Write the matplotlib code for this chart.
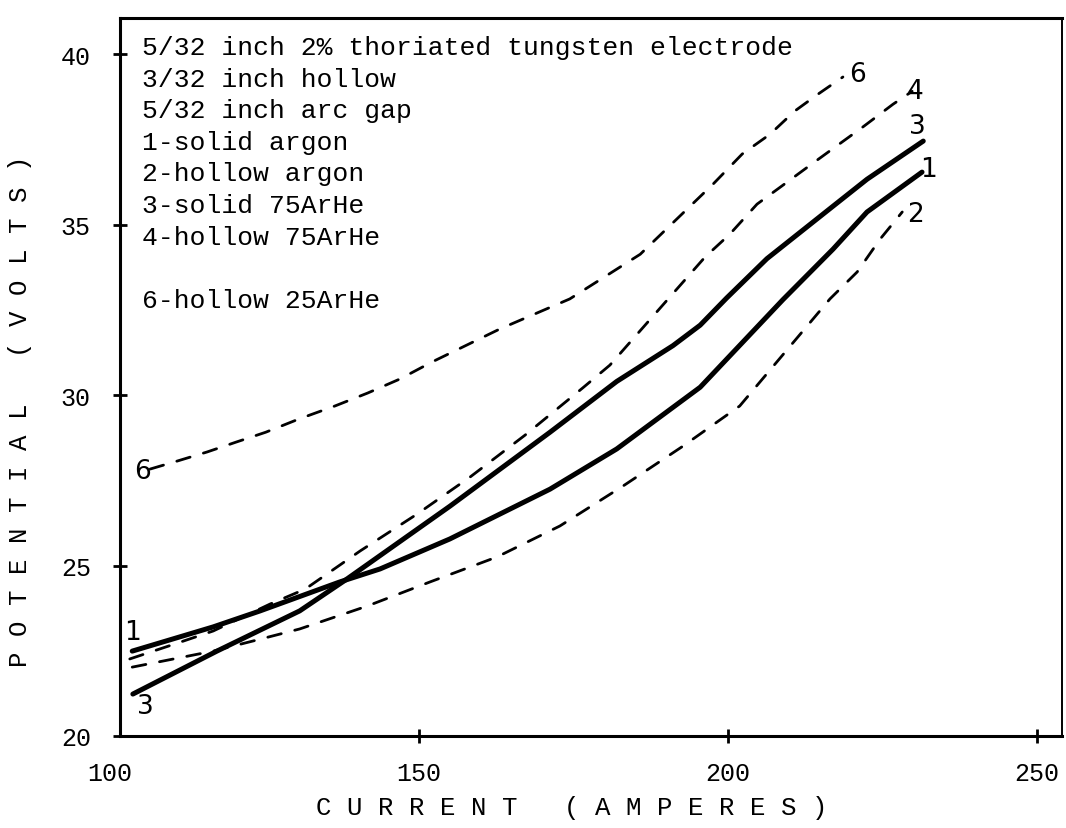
"""Arc potential vs current for solid / hollow tungsten electrodes (re-drawn)."""
import matplotlib
matplotlib.use('Agg')
import matplotlib.pyplot as plt

W, H = 1066, 829
MONO = 'Liberation Mono'
SANS = 'DejaVu Sans'

# 1-solid argon
cur_1 = [103.6, 116.7, 124.3, 137.2, 143.7, 155.0, 171.2, 182.0, 195.5, 208.9, 217.0, 222.5, 231.4]
pot_1 = [22.49, 23.20, 23.67, 24.52, 24.90, 25.78, 27.24, 28.42, 30.23, 32.80, 34.28, 35.37, 36.54]
# 2-hollow argon
cur_2 = [103.6, 116.7, 124.3, 130.7, 141.6, 151.8, 162.6, 172.8, 183.0, 192.7, 201.9, 216.5, 220.9, 224.6, 228.2]
pot_2 = [22.02, 22.49, 22.84, 23.14, 23.81, 24.52, 25.25, 26.16, 27.33, 28.50, 29.68, 32.82, 33.61, 34.57, 35.37]
# 3-solid 75ArHe
cur_3 = [103.7, 117.3, 130.7, 138.3, 155.0, 171.2, 182.0, 191.1, 195.5, 199.8, 206.3, 217.0, 222.5, 231.6]
pot_3 = [21.23, 22.49, 23.67, 24.60, 26.74, 28.91, 30.40, 31.45, 32.05, 32.85, 34.00, 35.54, 36.33, 37.45]
# 4-hollow 75ArHe
cur_4 = [103.2, 110.5, 116.7, 125.9, 131.6, 140.5, 149.7, 158.3, 167.2, 176.5, 180.9, 196.3, 200.3,
         204.7, 208.7, 212.9, 217.3, 221.8, 226.7, 229.8]
pot_4 = [22.26, 22.70, 23.08, 23.87, 24.31, 25.43, 26.51, 27.60, 28.83, 30.21, 30.88, 34.05, 34.72,
         35.60, 36.13, 36.69, 37.27, 37.86, 38.53, 38.91]
# 6-hollow 25ArHe
cur_6 = [106.5, 110.8, 115.7, 120.4, 125.2, 130.6, 136.4, 141.7, 146.9, 152.1, 163.1, 174.4, 185.8,
         197.6, 202.3, 206.8, 210.8, 214.6, 218.6]
pot_6 = [27.83, 28.06, 28.33, 28.62, 28.91, 29.30, 29.68, 30.06, 30.47, 30.97, 31.94, 32.82, 34.13,
         36.19, 37.07, 37.65, 38.33, 38.83, 39.33]

x_ticks = [150, 200, 250]
y_ticks = [20, 25, 30, 35, 40]

notes = ['5/32 inch 2% thoriated tungsten electrode',
         '3/32 inch hollow',
         '5/32 inch arc gap',
         '1-solid argon',
         '2-hollow argon',
         '3-solid 75ArHe',
         '4-hollow 75ArHe',
         '',
         '6-hollow 25ArHe']

fig = plt.figure(figsize=(W / 100, H / 100), dpi=100)
ax = fig.add_axes([120 / W, (H - 737) / H, 942 / W, 718 / H])

solid = dict(color='black', lw=3.6, solid_capstyle='round', solid_joinstyle='round')
dash = dict(color='black', lw=2.0, dashes=(5, 5), dash_capstyle='round')
ax.plot(cur_1, pot_1, **solid)
ax.plot(cur_3, pot_3, **solid)
ax.plot(cur_2, pot_2, **dash)
ax.plot(cur_4, pot_4, **dash)
ax.plot(cur_6, pot_6, **dash)

ax.set_xlim(101.62, 254.05)
ax.set_ylim(20, 41.06)
ax.set_xticks(x_ticks)
ax.set_yticks(y_ticks)
ax.tick_params(direction='inout', length=10, width=2, labelsize=18, colors='black')
ax.tick_params(axis='x', pad=13)
ax.tick_params(axis='y', pad=16)
for lab in ax.get_xticklabels() + ax.get_yticklabels():
    lab.set_family(MONO)
ax.annotate('100', xy=(100, 0), xycoords=('data', 'axes fraction'), xytext=(0, -18),
            textcoords='offset points', ha='center', va='top', fontsize=18,
            family=MONO, annotation_clip=False)

for side in ['left', 'bottom', 'top']:
    ax.spines[side].set_linewidth(2.2)
ax.spines['right'].set_linewidth(1.4)

ax.set_xlabel('C U R R E N T   ( A M P E R E S )', family=MONO, fontsize=18.5, va='center')
ax.set_ylabel('P O T E N T I A L   ( V O L T S )', family=MONO, fontsize=18.5, va='center')
ax.xaxis.set_label_coords(0.48, -0.099)
ax.yaxis.set_label_coords(-0.106, 0.454)

# notes in the upper left
baselines = [55, 87, 118, 150, 181, 213, 245, 276, 308]
for txt, b in zip(notes, baselines):
    fig.text(142 / W, 1 - b / H, txt, family=MONO, fontsize=19, va='baseline', ha='left')

# curve numbers
nums = [('1', 103.6, 23.05), ('3', 105.7, 20.88), ('6', 105.2, 27.77),
        ('6', 220.9, 39.41), ('4', 230.3, 38.91), ('3', 230.7, 37.89),
        ('1', 232.4, 36.63), ('2', 230.3, 35.31)]
for s, xx, yy in nums:
    ax.text(xx, yy, s, family=SANS, fontsize=19, ha='center', va='center')

fig.savefig('out.png', dpi=100)
